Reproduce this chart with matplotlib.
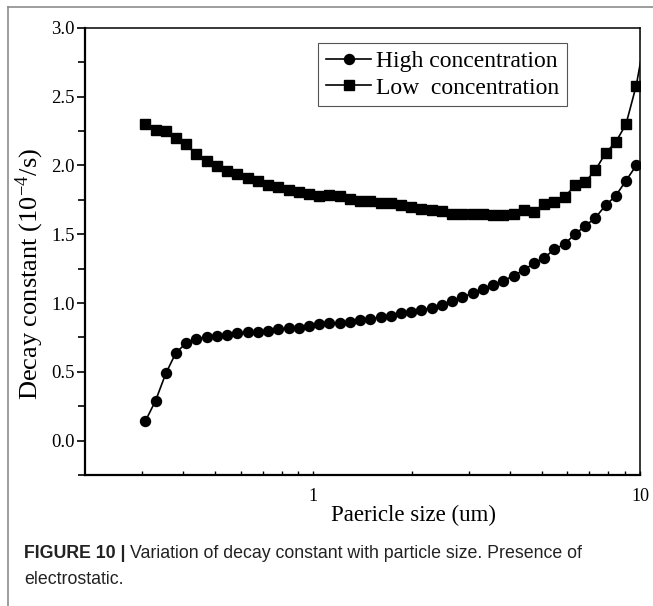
import matplotlib
matplotlib.use('Agg')
import matplotlib.pyplot as plt
from matplotlib.ticker import FixedLocator, NullFormatter, FuncFormatter, MultipleLocator
from matplotlib.lines import Line2D

plt.rcParams['font.family'] = ['Liberation Serif', 'DejaVu Serif']
plt.rcParams['mathtext.fontset'] = 'stix'

# particle size (um)
size = [0.306, 0.329, 0.354, 0.380, 0.409, 0.439, 0.472, 0.507, 0.545, 0.586,
        0.630, 0.677, 0.727, 0.782, 0.840, 0.903, 0.970, 1.043, 1.121, 1.205,
        1.295, 1.392, 1.496, 1.607, 1.728, 1.857, 1.995, 2.144, 2.305, 2.477,
        2.662, 2.861, 3.075, 3.304, 3.551, 3.817, 4.102, 4.409, 4.738, 5.092,
        5.472, 5.882, 6.321, 6.793, 7.301, 7.847, 8.433, 9.064, 9.741]

high = [0.14, 0.29, 0.49, 0.64, 0.71, 0.74, 0.75, 0.76, 0.77, 0.78,
        0.79, 0.79, 0.80, 0.81, 0.82, 0.82, 0.83, 0.845, 0.853, 0.857,
        0.865, 0.877, 0.884, 0.896, 0.908, 0.925, 0.937, 0.949, 0.966, 0.986,
        1.017, 1.046, 1.07, 1.099, 1.13, 1.16, 1.20, 1.24, 1.29, 1.33,
        1.39, 1.43, 1.50, 1.56, 1.62, 1.71, 1.78, 1.89, 2.00]

# low concentration has one more point just past the axis end (clipped)
size_low = size + [10.4]
low = [2.30, 2.26, 2.25, 2.20, 2.155, 2.08, 2.03, 1.995, 1.96, 1.94,
       1.91, 1.89, 1.86, 1.845, 1.825, 1.81, 1.795, 1.78, 1.785, 1.775,
       1.755, 1.74, 1.74, 1.727, 1.727, 1.715, 1.70, 1.686, 1.68, 1.67,
       1.645, 1.645, 1.645, 1.645, 1.64, 1.64, 1.65, 1.675, 1.66, 1.72,
       1.735, 1.77, 1.855, 1.88, 1.965, 2.09, 2.17, 2.30, 2.58, 2.95]

fig = plt.figure(figsize=(6.53, 6.06), dpi=100)
ax = fig.add_axes([0.130, 0.216, 0.850, 0.738])

ax.plot(size, high, '-o', color='black', lw=1.2, ms=7.2, label='High concentration')
ax.plot(size_low, low, '-s', color='black', lw=1.2, ms=6.5, label='Low  concentration')

ax.set_xscale('log')
ax.set_xlim(0.2, 10)
ax.set_ylim(-0.25, 3.0)

ax.xaxis.set_major_locator(FixedLocator([1, 10]))
ax.xaxis.set_major_formatter(FuncFormatter(lambda v, p: '%g' % v))
ax.xaxis.set_minor_locator(FixedLocator([0.3, 0.4, 0.5, 0.6, 0.7, 0.8, 0.9,
                                         2, 3, 4, 5, 6, 7, 8, 9]))
ax.xaxis.set_minor_formatter(NullFormatter())
ax.tick_params(axis='x', which='both', direction='in', length=3, width=1, pad=9,
               labelsize=13)

ax.yaxis.set_major_locator(MultipleLocator(0.5))
ax.yaxis.set_minor_locator(MultipleLocator(0.25))
ax.yaxis.set_major_formatter(FuncFormatter(lambda v, p: '%.1f' % v))
ax.tick_params(axis='y', which='major', direction='out', length=6, width=1.2, pad=1.5,
               labelsize=13.5)
ax.tick_params(axis='y', which='minor', direction='out', length=5, width=1.2)

for s in ['left', 'bottom']:
    ax.spines[s].set_linewidth(1.6)
for s in ['top', 'right']:
    ax.spines[s].set_linewidth(1.1)

ax.set_xlabel('Paericle size (um)', fontsize=16.5)
ax.xaxis.set_label_coords(0.592, -0.067)
ax.set_ylabel('Decay constant (10$^{\\mathregular{-4}}$/s)', fontsize=19)
ax.yaxis.set_label_coords(-0.07, 0.45)

leg = ax.legend(loc='upper right', bbox_to_anchor=(0.868, 0.966), fontsize=17,
                frameon=True, fancybox=False, edgecolor='#555555', framealpha=1,
                handlelength=1.9, handletextpad=0.2, labelspacing=0.2,
                borderpad=0.33, borderaxespad=0)
leg.get_frame().set_linewidth(0.8)

# frame lines of the figure panel
fig.add_artist(Line2D([0.0123, 1], [0.9885, 0.9885], color='#8c8c8c', lw=1.2))
fig.add_artist(Line2D([0.0123, 0.0123], [0, 0.9885], color='#8c8c8c', lw=1.2))

# caption
cap_font = ['Liberation Sans', 'DejaVu Sans']
t1 = fig.text(0.0368, 0.087, 'FIGURE 10 |', fontsize=12.8, fontweight='bold',
              family=cap_font, color='#222222', va='center')
fig.canvas.draw()
bb = t1.get_window_extent()
x2 = (bb.x1 + 4) / fig.bbox.width
fig.text(x2, 0.087, 'Variation of decay constant with particle size. Presence of',
         fontsize=12.8, family=cap_font, color='#222222', va='center')
fig.text(0.0368, 0.043, 'electrostatic.', fontsize=12.8, family=cap_font,
         color='#222222', va='center')

fig.savefig('out.png', dpi=100)
